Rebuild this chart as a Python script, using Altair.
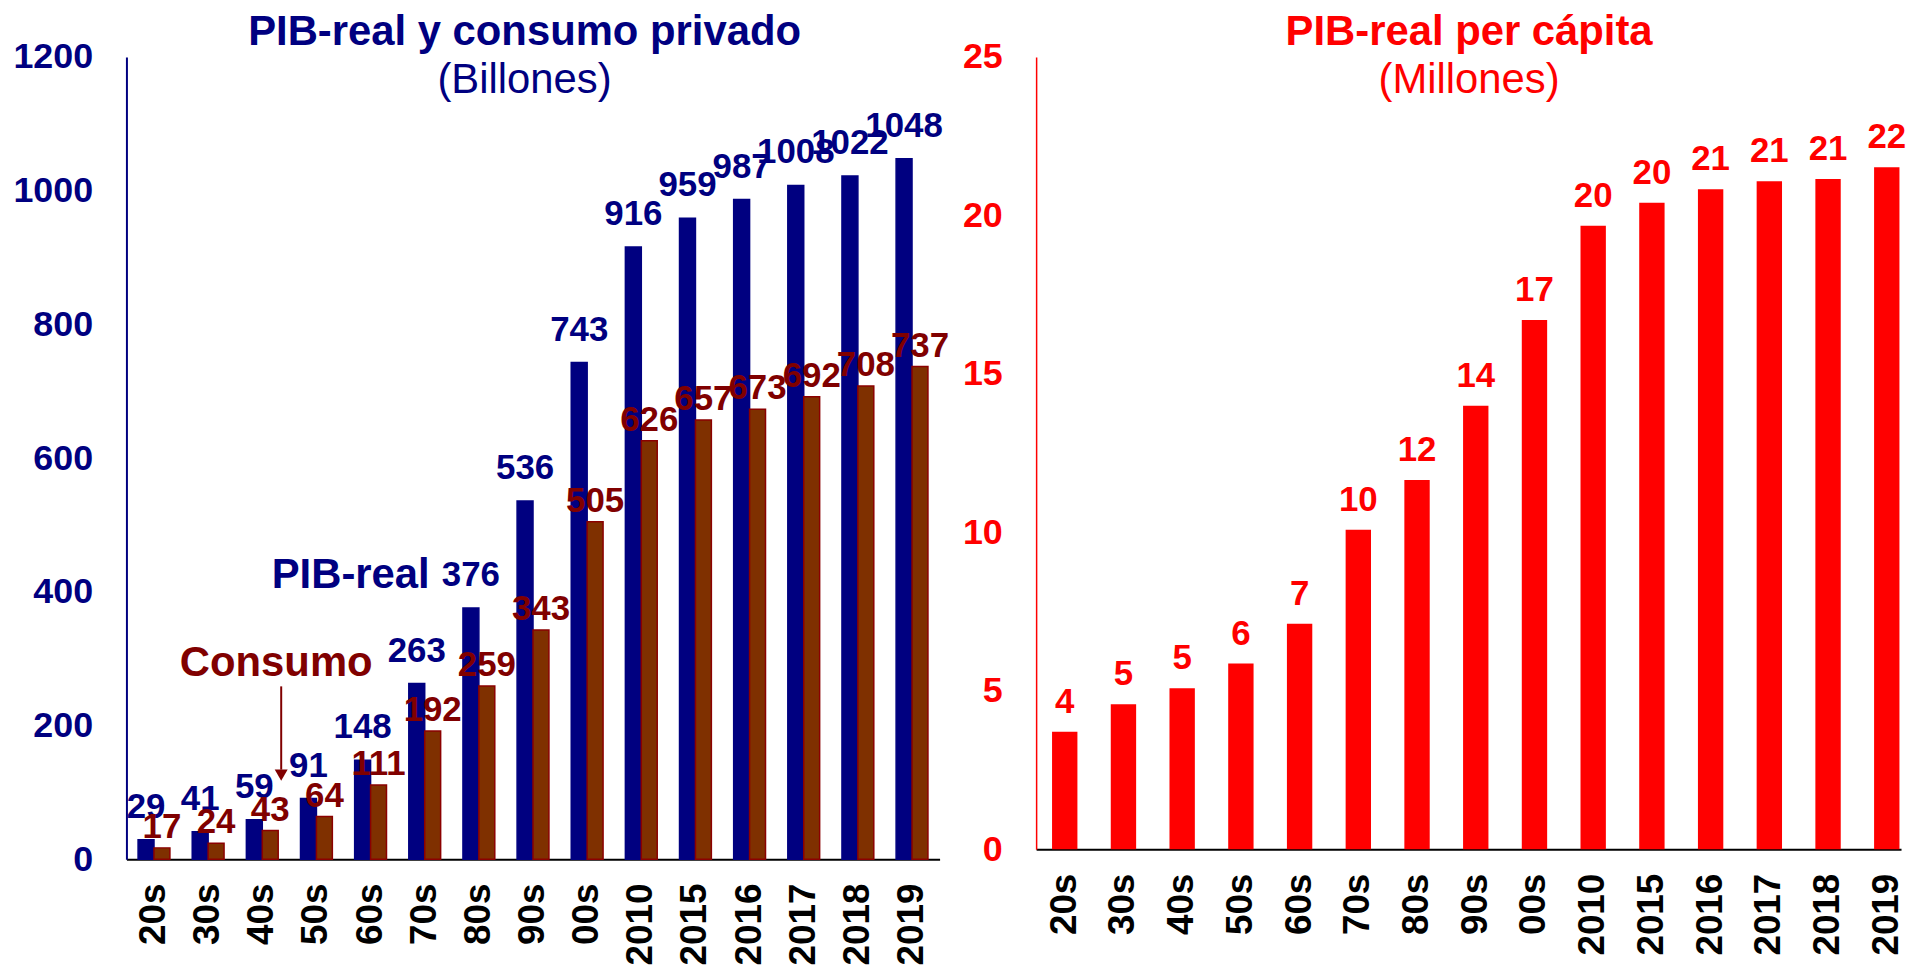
import altair as alt
import pandas as pd

# ---------------- data ----------------
categories = ["20s", "30s", "40s", "50s", "60s", "70s", "80s", "90s", "00s",
              "2010", "2015", "2016", "2017", "2018", "2019"]
pib_real = [29, 41, 59, 91, 148, 263, 376, 536, 743, 916, 959, 987, 1008, 1022, 1048]
consumo = [17, 24, 43, 64, 111, 192, 259, 343, 505, 626, 657, 673, 692, 708, 737]
pib_per_capita = [3.71, 4.58, 5.08, 5.86, 7.12, 10.08, 11.65, 14.0, 16.7,
                  19.68, 20.4, 20.83, 21.08, 21.15, 21.52]
series_names = ["PIB-real", "Consumo"]
left_ticks = [0, 200, 400, 600, 800, 1000, 1200]
right_ticks = [0, 5, 10, 15, 20, 25]
left_title = "PIB-real y consumo privado"
left_subtitle = "(Billones)"
right_title = "PIB-real per cápita"
right_subtitle = "(Millones)"

NAVY = "#000080"
BROWN = "#7F3000"
BROWN_EDGE = "#8B0000"
MAROON = "#800000"
RED = "#FF0000"
FONT = "Liberation Sans"

long_df = pd.DataFrame({
    "cat": categories * 2,
    "serie": [series_names[0]] * len(categories) + [series_names[1]] * len(categories),
    "valor": pib_real + consumo,
})
pc_df = pd.DataFrame({"cat": categories, "valor": pib_per_capita})

# ---------------- left panel ----------------
x_axis = alt.Axis(labelAngle=270, labelFont=FONT, labelFontSize=37, labelFontWeight="bold",
                  labelColor="black", domainColor="black", domainWidth=2, ticks=False,
                  tickSize=0, labelPadding=24, grid=False)

x_left = alt.X("cat:N", sort=categories, title=None,
               scale=alt.Scale(paddingInner=0.412, paddingOuter=0.215), axis=x_axis)
xoff = alt.XOffset("serie:N", sort=series_names,
                   scale=alt.Scale(domain=series_names, paddingInner=0, paddingOuter=0))
y_left = alt.Y("valor:Q", title=None, scale=alt.Scale(domain=[0, 1200], nice=False),
               axis=alt.Axis(values=left_ticks, format="d", labelFont=FONT, labelFontSize=36,
                             labelFontWeight="bold", labelColor=NAVY, domainColor=NAVY,
                             domainWidth=2, ticks=False, tickSize=0, labelPadding=34,
                             grid=False))

base_left = alt.Chart(long_df)

bars_left = base_left.mark_bar(strokeWidth=1.5).encode(
    x=x_left, xOffset=xoff, y=y_left,
    color=alt.Color("serie:N", scale=alt.Scale(domain=series_names, range=[NAVY, BROWN]), legend=None),
    stroke=alt.Stroke("serie:N", scale=alt.Scale(domain=series_names, range=[NAVY, BROWN_EDGE]), legend=None),
)

def value_labels(serie, color, dy):
    return base_left.transform_filter(alt.datum.serie == serie).mark_text(
        font=FONT, fontSize=35, fontWeight="bold", baseline="alphabetic", dy=dy,
        color=color).encode(
        x=alt.X("cat:N", sort=categories, title=None), xOffset=xoff,
        y=alt.Y("valor:Q", title=None), text=alt.Text("valor:Q", format="d"))

ann_pib = alt.Chart(pd.DataFrame({"cat": ["70s"], "valor": [405], "t": ["PIB-real"]})).mark_text(
    font=FONT, fontSize=42, fontWeight="bold", color=NAVY, align="right",
    baseline="alphabetic", dx=5).encode(
    x=alt.X("cat:N", sort=categories, title=None), y=alt.Y("valor:Q", title=None), text="t:N")

ann_con = alt.Chart(pd.DataFrame({"cat": ["40s"], "valor": [273.5], "t": ["Consumo"]})).mark_text(
    font=FONT, fontSize=42, fontWeight="bold", color=MAROON, align="center",
    baseline="alphabetic", dx=14).encode(
    x=alt.X("cat:N", sort=categories, title=None), y=alt.Y("valor:Q", title=None), text="t:N")

arrow_df = pd.DataFrame({"cat": ["40s"], "valor": [258.6], "fin": [134], "punta": [126]})
arrow_line = alt.Chart(arrow_df).mark_rule(color=MAROON, strokeWidth=2, xOffset=19).encode(
    x=alt.X("cat:N", sort=categories, title=None), y=alt.Y("valor:Q", title=None), y2="fin:Q")
arrow_head = alt.Chart(arrow_df).mark_point(shape="triangle-down", filled=True, size=170,
                                            color=MAROON, opacity=1, xOffset=19).encode(
    x=alt.X("cat:N", sort=categories, title=None), y=alt.Y("punta:Q", title=None))

title_l = alt.Chart(pd.DataFrame({"t": [left_title]})).mark_text(
    font=FONT, fontSize=42, fontWeight="bold", color=NAVY, align="center",
    baseline="alphabetic").encode(x=alt.value(400), y=alt.value(-12), text="t:N")
subtitle_l = alt.Chart(pd.DataFrame({"t": [left_subtitle]})).mark_text(
    font=FONT, fontSize=42, color=NAVY, align="center",
    baseline="alphabetic").encode(x=alt.value(400), y=alt.value(36), text="t:N")

left = alt.layer(
    bars_left,
    value_labels(series_names[0], NAVY, -22),
    value_labels(series_names[1], MAROON, -10),
    ann_pib, ann_con, arrow_line, arrow_head, title_l, subtitle_l,
).properties(width=817, height=806)

# ---------------- right panel ----------------
x_right = alt.X("cat:N", sort=categories, title=None,
                scale=alt.Scale(paddingInner=0.568, paddingOuter=0.149, align=0.91), axis=x_axis)
y_right = alt.Y("valor:Q", title=None, scale=alt.Scale(domain=[0, 25], nice=False),
                axis=alt.Axis(values=right_ticks, format="d", labelFont=FONT, labelFontSize=36,
                              labelFontWeight="bold", labelColor=RED, domainColor=RED,
                              domainWidth=1.5, ticks=False, tickSize=0, labelPadding=34,
                              grid=False))

base_right = alt.Chart(pc_df)
bars_right = base_right.mark_bar(color=RED).encode(x=x_right, y=y_right)
labels_right = base_right.mark_text(font=FONT, fontSize=35, fontWeight="bold", color=RED,
                                    baseline="alphabetic", dy=-19).encode(
    x=alt.X("cat:N", sort=categories, title=None), y=alt.Y("valor:Q", title=None),
    text=alt.Text("valor:Q", format=".0f"))

title_r = alt.Chart(pd.DataFrame({"t": [right_title]})).mark_text(
    font=FONT, fontSize=42, fontWeight="bold", color=RED, align="center",
    baseline="alphabetic").encode(x=alt.value(435), y=alt.value(-12), text="t:N")
subtitle_r = alt.Chart(pd.DataFrame({"t": [right_subtitle]})).mark_text(
    font=FONT, fontSize=42, color=RED, align="center",
    baseline="alphabetic").encode(x=alt.value(435), y=alt.value(36), text="t:N")

right = alt.layer(bars_right, labels_right, title_r, subtitle_r).properties(width=869, height=796)

chart = alt.hconcat(left, right, spacing=12).configure_view(stroke=None).properties(
    padding={"left": 4, "top": 1, "right": 0, "bottom": 0})

chart.save("out.html", embed_options={"renderer": "svg", "actions": False})
